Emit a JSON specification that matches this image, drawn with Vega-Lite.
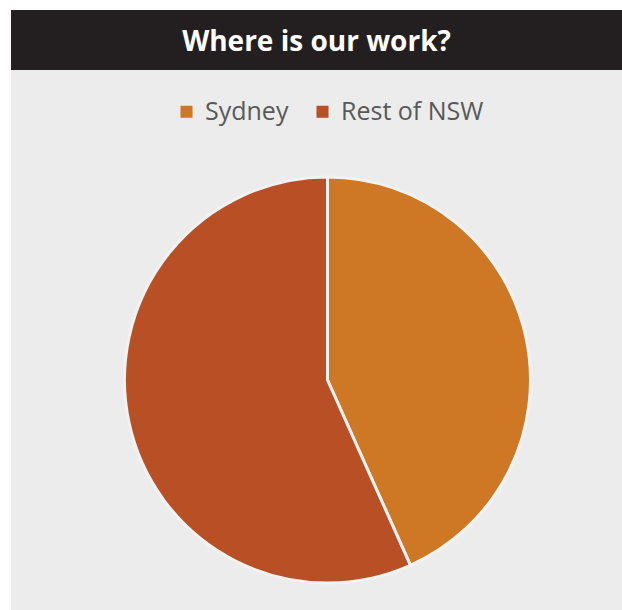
{
  "$schema": "https://vega.github.io/schema/vega-lite/v6.json",
  "background": "white",
  "padding": {"top": 10, "left": 11, "right": 0, "bottom": 0},
  "autosize": {"type": "none"},
  "width": 611,
  "height": 600,
  "view": {"fill": "#ebeceb", "stroke": null},
  "config": {"font": "Open Sans"},
  "layer": [
    {
      "data": {"values": [{"text": "Where is our work?"}]},
      "mark": {"type": "rect", "x": 0, "x2": {"expr": "width"}, "y": 0, "y2": 60, "color": "#231f20"},
      "encoding": {}
    },
    {
      "data": {"values": [{"text": "Where is our work?"}]},
      "mark": {"type": "text", "x": {"expr": "width/2"}, "y": 33, "align": "center", "baseline": "middle", "fontSize": 28, "fontWeight": "bold", "color": "white", "font": "Open Sans"},
      "encoding": {"text": {"field": "text"}}
    },
    {
      "data": {"values": [
        {"region": "Sydney", "share": 43.3, "rank": 1},
        {"region": "Rest of NSW", "share": 56.7, "rank": 2}
      ]},
      "mark": {"type": "arc", "outerRadius": 203, "x": {"expr": "width/2 + 11"}, "y": {"expr": "height/2 + 70"}, "stroke": "#f2f2f2", "strokeWidth": 3},
      "encoding": {
        "theta": {"field": "share", "type": "quantitative", "stack": true},
        "order": {"field": "rank", "type": "quantitative"},
        "color": {
          "field": "region",
          "type": "nominal",
          "scale": {"domain": ["Sydney", "Rest of NSW"], "range": ["#ce7724", "#b94f25"]},
          "legend": {
            "title": null,
            "orient": "none",
            "direction": "horizontal",
            "legendX": 163,
            "legendY": 89,
            "symbolType": "square",
            "symbolSize": 144,
            "symbolStrokeWidth": 0,
            "labelFontSize": 25,
            "labelColor": "#595959",
            "labelFont": "Open Sans",
            "columnPadding": 21,
            "labelOffset": 6
          }
        }
      }
    }
  ]
}
